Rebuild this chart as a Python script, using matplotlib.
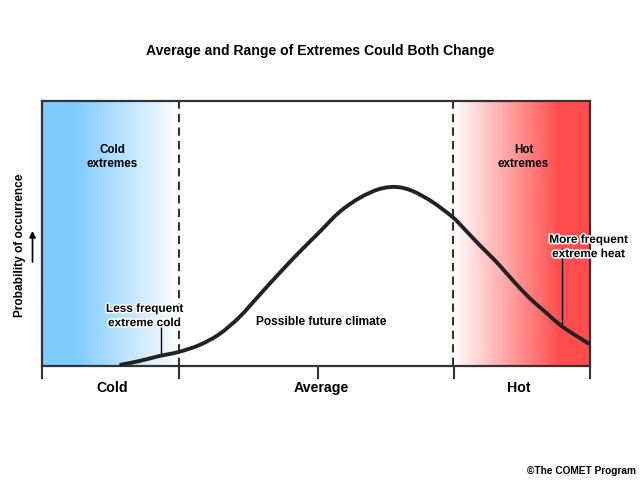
import matplotlib
matplotlib.use("Agg")
import matplotlib.pyplot as plt
import matplotlib.patheffects as pe
from matplotlib.colors import LinearSegmentedColormap
from matplotlib.patches import FancyArrowPatch, PathPatch
from matplotlib.path import Path
import numpy as np

plt.rcParams['font.family'] = ['Liberation Sans', 'DejaVu Sans']

# axis runs in "temperature" units, probability in arbitrary units (both)
curve_x = [78, 98, 118, 137, 158, 178, 198, 218, 238, 258, 278, 298, 318, 338, 355, 371, 391, 411, 421, 438, 455, 471, 488, 505, 520, 535, 548]
curve_y = [1, 5, 10, 14, 21, 32, 49, 71, 93, 114, 134, 154, 168, 177, 179, 175, 164, 149, 139, 121, 104, 86, 68, 53, 40, 30, 22]

bounds = [0, 137.5, 276.5, 411.5, 548.5]
tick_pos = [0, 137.5, 276.5, 412.5, 548.5]
dash_pos = [137.5, 411.5]
region_names = ['Cold', 'Average', 'Hot']
region_pos = [71, 280, 477]

cold_stops = [0, 0.25, 1]
cold_colors = ['#80ccff', '#80ccff', '#ffffff']
hot_stops = [0, 0.78, 1]
hot_colors = ['#ffffff', '#ff4d4d', '#ff4d4d']


def smooth_path(xs, ys):
    # bezier segments passing through every read point
    pts = np.column_stack([xs, ys]).astype(float)
    verts = [pts[0]]
    codes = [Path.MOVETO]
    for i in range(len(pts) - 1):
        p0 = pts[max(i - 1, 0)]
        p1 = pts[i]
        p2 = pts[i + 1]
        p3 = pts[min(i + 2, len(pts) - 1)]
        verts += [p1 + (p2 - p0) / 6, p2 - (p3 - p1) / 6, p2]
        codes += [Path.CURVE4] * 3
    return Path(verts, codes)


fig = plt.figure(figsize=(6.4, 4.8), dpi=100)
ax = fig.add_axes([41.5 / 640, 114 / 480, 548.5 / 640, 265 / 480])

# gradients
grad = np.linspace(0, 1, 256).reshape(1, -1)
cold_cmap = LinearSegmentedColormap.from_list('cold', list(zip(cold_stops, cold_colors)))
hot_cmap = LinearSegmentedColormap.from_list('hot', list(zip(hot_stops, hot_colors)))
ax.imshow(grad, extent=[bounds[0], bounds[1], 0, 265], cmap=cold_cmap, aspect='auto', zorder=0)
ax.imshow(grad, extent=[bounds[3], bounds[4], 0, 265], cmap=hot_cmap, aspect='auto', zorder=0)
ax.set_xlim(0, 548.5)
ax.set_ylim(0, 265)

for x in dash_pos:
    ax.plot([x, x], [0, 265], color='#333333', lw=1.5, dashes=(4, 2.5), zorder=2)

ax.add_patch(PathPatch(smooth_path(curve_x, curve_y), fill=False, edgecolor='#222222', lw=2.8,
                       capstyle='butt', joinstyle='round', zorder=3))

# leader lines
ax.plot([119, 119], [13, 44], color='black', lw=1, zorder=2)
ax.plot([520, 520], [41, 117], color='black', lw=1, zorder=2)

for side in ax.spines.values():
    side.set_color('#333333')
    side.set_linewidth(1.6)

ax.set_xticks(tick_pos)
ax.set_xticklabels([])
ax.set_yticks([])
ax.tick_params(axis='x', length=9.5, width=1.5, color='#333333')

bold = dict(fontweight='bold', color='black', ha='center', va='center')
halo = [pe.withStroke(linewidth=2.2, foreground='white')]

fig.text(320 / 640, 1 - 51 / 480, 'Average and Range of Extremes Could Both Change', fontsize=10.1, **bold)
for name, x in zip(region_names, region_pos):
    ax.text(x, -22, name, fontsize=10.2, **bold)

ax.text(71, 209, 'Cold\nextremes', fontsize=8.4, linespacing=1.25, **bold)
ax.text(482, 209, 'Hot\nextremes', fontsize=8.4, linespacing=1.25, **bold)
ax.text(280, 44, 'Possible future climate', fontsize=8.6, **bold)
ax.text(103, 50, 'Less frequent\nextreme cold', fontsize=8.5, linespacing=1.25, path_effects=halo, **bold)
ax.text(547, 119, 'More frequent\nextreme heat', fontsize=8.5, linespacing=1.25, path_effects=halo, clip_on=False, **bold)

fig.text(20.5 / 640, 1 - 245 / 480, 'Probability of occurrence', rotation=90, fontsize=8.6, **bold)
fig.patches.append(FancyArrowPatch(
    (32.5 / 640, 1 - 262 / 480), (32.5 / 640, 1 - 231 / 480), transform=fig.transFigure,
    arrowstyle='-|>', mutation_scale=9, lw=1.2, color='black', shrinkA=0, shrinkB=0))

fig.text(527 / 640, 1 - 471 / 480, '©The COMET Program', fontsize=7.3, fontweight='bold', ha='left', va='center')

fig.savefig('out.png', dpi=100)
